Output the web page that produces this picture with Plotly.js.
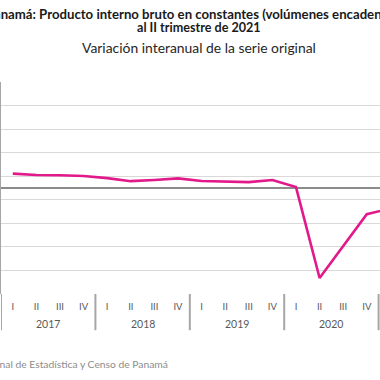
<!DOCTYPE html>
<html>
<head>
<meta charset="utf-8">
<script src="https://cdn.plot.ly/plotly-3.0.1.min.js"></script>
<style>
html,body{margin:0;padding:0;background:#fff;overflow:hidden;}
#chart{width:380px;height:380px;}
</style>
</head>
<body>
<div id="chart"></div>
<script>
// Data
const years = ["2017","2017","2017","2017","2018","2018","2018","2018","2019","2019","2019","2019","2020","2020","2020","2020","2021","2021"];
const quarters = ["I","II","III","IV","I","II","III","IV","I","II","III","IV","I","II","III","IV","I","II"];
const growth = [6.1, 5.5, 5.4, 5.1, 4.2, 2.9, 3.4, 4.1, 3.0, 2.7, 2.5, 3.4, 0.4, -38.2, -24.7, -11.1, -8.7, 40.4];
const yTicks = [-45, -35, -25, -15, -5, 5, 15, 25, 35, 45];
const titleLine1 = "<b>Panamá: Producto interno bruto en constantes (volúmenes encadenados), por trimestre</b>";
const titleLine2 = "<b>al II trimestre de 2021</b>";
const subtitle = "Variación interanual de la serie original";
const source = "Fuente: Instituto Nacional de Estadística y Censo de Panamá";

const FONT = "Lato, 'Open Sans', sans-serif";
const AXIS_GREY = "#a6a6a6";

// category positions (index of each quarter)
const idx = quarters.map((q, i) => i);

// year groups: centre for label, boundaries for dividers
const yearList = [...new Set(years)];
const yearCenters = yearList.map(y => {
  const ii = idx.filter(i => years[i] === y);
  return (ii[0] + ii[ii.length - 1]) / 2;
});
const boundaries = [-0.5];
yearList.forEach(y => {
  const ii = idx.filter(i => years[i] === y);
  boundaries.push(ii[ii.length - 1] + 0.5);
});

const trace = {
  type: "scatter",
  mode: "lines",
  x: idx,
  y: growth,
  line: {color: "#E2198A", width: 2.6},
  hoverinfo: "skip",
  cliponaxis: true
};

const yearAnnotations = yearList.map((y, k) => ({
  text: y, xref: "x", yref: "paper", x: yearCenters[k], y: -0.1415,
  xanchor: "center", yanchor: "middle", showarrow: false,
  font: {size: 10.5, color: "#595959", family: FONT}
}));

const dividerShapes = boundaries.map(b => ({
  type: "line", xref: "x", yref: "paper", x0: b, x1: b, y0: 0, y1: -0.1707,
  line: {color: AXIS_GREY, width: 2}
}));

const layout = {
  width: 380, height: 380,
  margin: {l: 1, r: 0, t: 82, b: 86},
  paper_bgcolor: "#ffffff",
  plot_bgcolor: "#ffffff",
  showlegend: false,
  font: {family: FONT, color: "#595959"},
  xaxis: {
    range: [-0.5, 15.56],
    tickvals: idx,
    ticktext: quarters,
    showgrid: false,
    zeroline: false,
    showline: false,
    ticks: "",
    ticklabelstandoff: 5,
    tickfont: {size: 9.5, color: "#595959", family: FONT}
  },
  yaxis: {
    range: [-45, 45],
    tickvals: yTicks,
    showticklabels: false,
    showgrid: true,
    gridcolor: "#d9d9d9",
    gridwidth: 1,
    zeroline: true,
    zerolinecolor: "#8c8c8c",
    zerolinewidth: 1.5,
    showline: true,
    linecolor: AXIS_GREY,
    linewidth: 2,
    ticks: ""
  },
  shapes: dividerShapes,
  annotations: [
    {text: titleLine1, xref: "paper", yref: "paper", x: -0.045, y: 1.322, xanchor: "left", yanchor: "middle", showarrow: false, font: {size: 13.2, color: "#1a1a1a", family: FONT}},
    {text: titleLine2, xref: "paper", yref: "paper", x: 0.5224, y: 1.257, xanchor: "center", yanchor: "middle", showarrow: false, font: {size: 12.6, color: "#1a1a1a", family: FONT}},
    {text: subtitle, xref: "paper", yref: "paper", x: 0.5224, y: 1.162, xanchor: "center", yanchor: "middle", showarrow: false, font: {size: 13.9, color: "#262626", family: FONT}},
    {text: source, xref: "paper", yref: "paper", x: 0.446, y: -0.331, xanchor: "right", yanchor: "middle", showarrow: false, font: {size: 10.3, color: "#8c8c8c", family: FONT}}
  ].concat(yearAnnotations)
};

Plotly.newPlot("chart", [trace], layout, {displayModeBar: false, staticPlot: true});
</script>
</body>
</html>
